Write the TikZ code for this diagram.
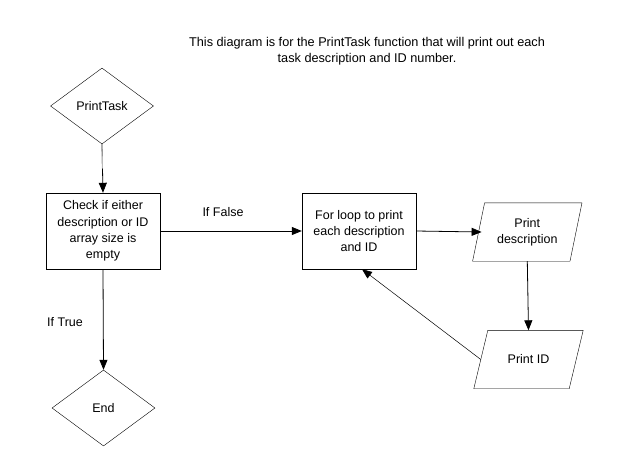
\documentclass[tikz,border=0pt]{standalone}
\usepackage{fontspec}
\setmainfont{Liberation Sans}
\usetikzlibrary{shapes.geometric,arrows.meta,calc}
\begin{document}
\begin{tikzpicture}[x=1pt,y=-1pt,
  every node/.style={font=\fontsize{12.5}{16.3}\selectfont},
  procbox/.style={draw,rectangle,minimum width=114pt,minimum height=76pt,align=center,inner sep=2pt},
  termdia/.style={draw,diamond,minimum width=103pt,minimum height=76pt,inner sep=0pt,aspect=1.35},
  iobox/.style={rectangle,minimum width=97pt,minimum height=58pt,align=center,inner sep=1pt},
  arr/.style={-{Triangle[length=10pt,width=8pt]},line width=0.8pt},
  lbl/.style={inner sep=0pt}]
\useasboundingbox (0,0) rectangle (641,472);
\fill[white] (0,0) rectangle (641,472);
\node[lbl,align=center,font=\fontsize{12.7}{15.5}\selectfont] (title) at (367,51) {This diagram is for the PrintTask function that will print out each\\task description and ID number.};
\node[termdia] (pt) at (102,106) {PrintTask};
\node[procbox] (check) at (103,231) {Check if either\\description or ID\\array size is\\empty};
\node[procbox] (loop) at (359,231) {For loop to print\\each description\\and ID};
\node[iobox] (desc) at (527.3,232) {Print\\description};
\node[iobox,minimum width=95pt] (pid) at (528.5,359.5) {Print ID};
\node[termdia] (end) at (103.5,408) {End};
\node[lbl] (lfalse) at (223,212) {If False};
\node[lbl] (ltrue) at (65,322) {If True};
\draw ($(desc.north west)+(6,0)$) -- ($(desc.north east)+(6,0)$) -- ($(desc.south east)+(-6,0)$) -- ($(desc.south west)+(-6,0)$) -- cycle;
\draw ($(pid.north west)+(7,0)$) -- ($(pid.north east)+(7,0)$) -- ($(pid.south east)+(-7,0)$) -- ($(pid.south west)+(-7,0)$) -- cycle;
\coordinate (ptmid) at ($(pt.south)!0.5!(check.north)$);
\draw[arr] (pt.south) -- (check.north);
\draw[gray!55,line width=1pt] (pt.south) -- (ptmid);
\draw[arr] (check.east) -- (loop.west);
\draw[arr] (loop.east) -- ($(desc.west)+(3,0)$);
\draw[arr] (desc.south) -- (pid.north);
\coordinate (loopin) at ($(loop.south)+(3,0)$);
\draw[-{Triangle[length=10pt,width=8pt]},line width=0.5pt] (pid.west) -- (loopin);
\draw[arr] (check.south) -- (end.north);
\end{tikzpicture}
\end{document}
